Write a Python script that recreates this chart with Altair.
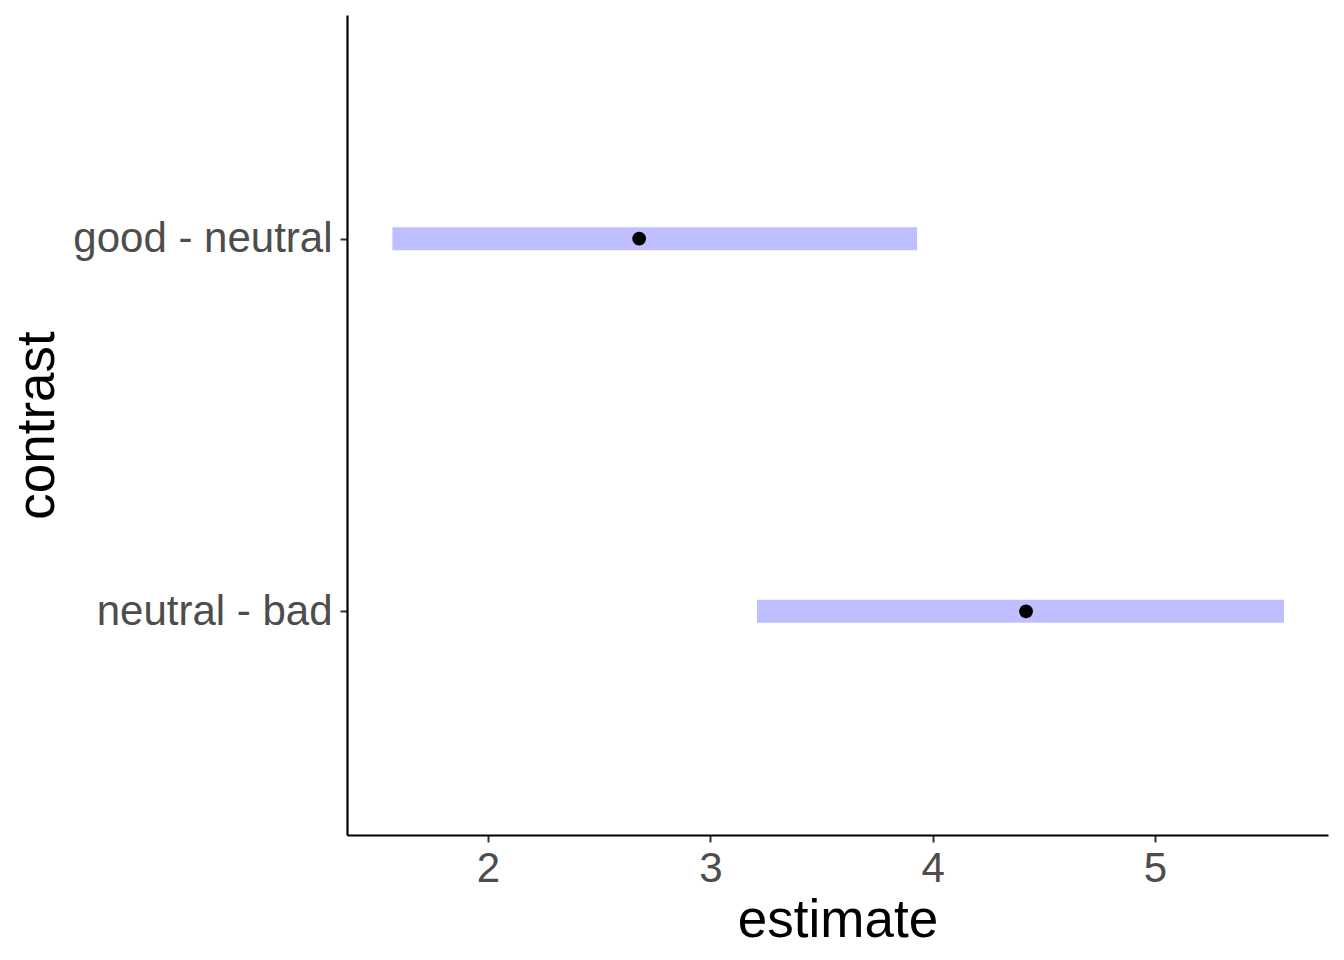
import altair as alt
import pandas as pd

contrasts = ["good - neutral", "neutral - bad"]
estimates = [2.68, 4.42]
lower = [1.57, 3.21]
upper = [3.93, 5.58]
x_ticks = [2, 3, 4, 5]

df = pd.DataFrame({"contrast": contrasts, "estimate": estimates, "lower": lower, "upper": upper})

FONT = "Liberation Sans"
XDOM = [1.366, 5.778]

x_enc = alt.X(
    "estimate:Q",
    title="estimate",
    scale=alt.Scale(domain=XDOM, nice=False, zero=False),
    axis=alt.Axis(values=x_ticks, format="d", grid=False, domainColor="black", domainWidth=2.2,
                  tickColor="#333333", tickWidth=2, tickSize=7, labelPadding=6,
                  labelFont=FONT, labelFontSize=42, labelColor="#4D4D4D",
                  titleFont=FONT, titleFontSize=53, titleColor="black", titleFontWeight="normal",
                  titlePadding=5),
)
y_enc = alt.Y(
    "contrast:N",
    title="contrast",
    sort=contrasts,
    scale=alt.Scale(type="point", padding=0.6),
    axis=alt.Axis(grid=False, domainColor="black", domainWidth=2.2,
                  tickColor="#333333", tickWidth=2, tickSize=7, labelPadding=8,
                  labelFont=FONT, labelFontSize=42, labelColor="#4D4D4D", labelLimit=600,
                  titleFont=FONT, titleFontSize=53, titleColor="black", titleFontWeight="normal",
                  titlePadding=83),
)

bars = alt.Chart(df).mark_rule(color="#BFBFFF", strokeWidth=23, strokeCap="butt").encode(
    x=alt.X("lower:Q", scale=alt.Scale(domain=XDOM, nice=False, zero=False), title="estimate"),
    x2="upper:Q",
    y=y_enc,
)
points = alt.Chart(df).mark_circle(color="black", opacity=1, size=190).encode(
    x=x_enc,
    y=y_enc,
)

chart = (bars + points).properties(
    width=981, height=820,
    autosize=alt.AutoSizeParams(type="none"),
    padding={"left": 339, "top": 7, "right": 8, "bottom": 115},
).configure_view(stroke=None)

chart.save("out.html", embed_options={"renderer": "svg", "actions": False})
